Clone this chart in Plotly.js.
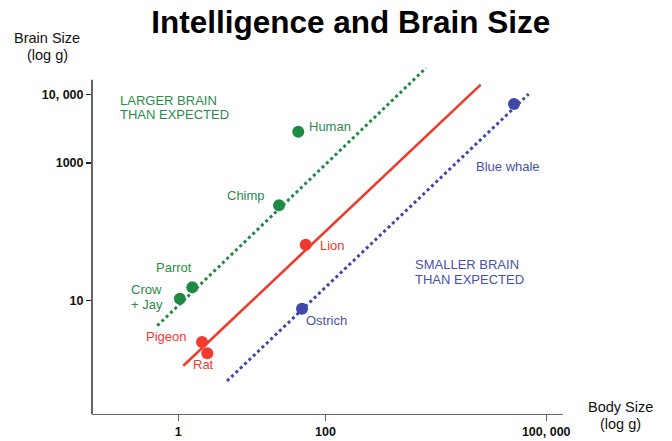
<!DOCTYPE html>
<html>
<head>
<meta charset="utf-8">
<script src="https://cdn.plot.ly/plotly-3.0.1.min.js"></script>
<style>html,body{margin:0;padding:0;background:#fff;}#chart{width:672px;height:441px;}</style>
</head>
<body>
<div id="chart"></div>
<script>
// ---- data (body size g, brain size g) ----
const greenNames = ['Human', 'Chimp', 'Parrot', 'Crow', '+ Jay'];
const greenBody  = [42.7, 23.4, 1.55, 1.05];
const greenBrain = [2860, 244, 15.7, 10.7];
const redNames   = ['Pigeon', 'Rat', 'Lion'];
const redBody    = [2.1, 2.48, 53.9];
const redBrain   = [2.51, 1.72, 65.2];
const blueNames  = ['Ostrich', 'Blue whale'];
const blueBody   = [48, 36500];
const blueBrain  = [7.65, 7230];
// trend lines
const aboveBody    = [0.518, 2325];
const aboveBrain   = [4.33, 24100];
const expectBody   = [1.17, 12880];
const expectBrain  = [1.135, 13800];
const belowBody    = [4.59, 57800];
const belowBrain   = [0.68, 10100];
// axis ticks
const xTickVals = [1, 100, 100000];
const xTickText = ['1', '100', '100, 000'];
const yTickVals = [10, 1000, 10000];
const yTickText = ['10', '1000', '10, 000'];

// ---- styles ----
const FONT = 'Liberation Sans, Arial, Helvetica, sans-serif';
const GREEN = '#1f8a45', RED = '#ef3a2d', BLUE = '#3f47a8';
const GREEN_T = '#2a8b4d', BLUE_T = '#4a51ad';

const traces = [
  {x: aboveBody, y: aboveBrain, mode: 'lines', line: {color: GREEN, width: 3, dash: '3px,3px'}, hoverinfo: 'skip'},
  {x: expectBody, y: expectBrain, mode: 'lines', line: {color: RED, width: 2.6}, hoverinfo: 'skip'},
  {x: belowBody, y: belowBrain, mode: 'lines', line: {color: BLUE, width: 3, dash: '3px,3px'}, hoverinfo: 'skip'},
  {x: greenBody, y: greenBrain, mode: 'markers', marker: {color: GREEN, size: 12}, cliponaxis: false},
  {x: redBody, y: redBrain, mode: 'markers', marker: {color: RED, size: 12}, cliponaxis: false},
  {x: blueBody, y: blueBrain, mode: 'markers', marker: {color: BLUE, size: 12}, cliponaxis: false}
];

function lab(text, x, y, xanchor, xs, ys, color) {
  return {text: text, x: Math.log10(x), y: Math.log10(y), xref: 'x', yref: 'y', showarrow: false,
          xanchor: xanchor, yanchor: 'middle', xshift: xs, yshift: ys,
          font: {family: FONT, size: 13, color: color}};
}
function plab(text, x, y, xanchor, color, size, weight) {
  return {text: text, x: x, y: y, xref: 'paper', yref: 'paper', showarrow: false,
          xanchor: xanchor, yanchor: 'middle',
          font: {family: FONT, size: size || 13, color: color, weight: weight || 'normal'}};
}

const annotations = [
  lab(greenNames[0], greenBody[0], greenBrain[0], 'left', 9, 5, GREEN_T),
  lab(greenNames[1], greenBody[1], greenBrain[1], 'right', -12, 10, GREEN_T),
  lab(greenNames[2], greenBody[2], greenBrain[2], 'center', -18, 20, GREEN_T),
  lab(greenNames[3], greenBody[3], greenBrain[3], 'left', -51, 9, GREEN_T),
  lab(greenNames[4], greenBody[3], greenBrain[3], 'left', -51, -6, GREEN_T),
  lab(redNames[0], redBody[0], redBrain[0], 'right', -14.5, 5, RED),
  lab(redNames[1], redBody[1], redBrain[1], 'center', -4, -11, RED),
  lab(redNames[2], redBody[2], redBrain[2], 'left', 12, -1, RED),
  lab(blueNames[0], blueBody[0], blueBrain[0], 'left', 2, -12, BLUE_T),
  lab(blueNames[1], blueBody[1], blueBrain[1], 'right', 28, -62.5, BLUE_T),
  plab('LARGER BRAIN', 0.0558, 0.897, 'left', GREEN_T),
  plab('THAN EXPECTED', 0.0558, 0.857, 'left', GREEN_T),
  plab('SMALLER BRAIN', 0.682, 0.4277, 'left', BLUE_T),
  plab('THAN EXPECTED', 0.682, 0.385, 'left', BLUE_T),
  plab('Brain Size', -0.0955, 1.073, 'center', '#111', 14.5),
  plab('(log g)', -0.0955, 1.026, 'center', '#111', 14.5),
  plab('Body Size', 1.122, 0.02, 'center', '#111', 14.5),
  plab('(log g)', 1.122, -0.0286, 'center', '#111', 14.5)
];

const layout = {
  width: 672, height: 441,
  margin: {l: 92, r: 109, t: 64, b: 27, pad: 0},
  paper_bgcolor: '#fff', plot_bgcolor: '#fff',
  showlegend: false,
  font: {family: FONT, color: '#000'},
  title: {text: 'Intelligence and Brain Size', x: 0.522, xref: 'container', xanchor: 'center',
          y: 0.95, yref: 'container', yanchor: 'middle',
          font: {family: FONT, size: 31.5, weight: 'bold', color: '#000'}},
  xaxis: {type: 'log', range: [-1.173, 5.228], showgrid: false, zeroline: false,
          showline: true, linecolor: '#666', linewidth: 1.3,
          ticks: 'outside', ticklen: 6, tickcolor: '#666', tickwidth: 1.2,
          tickvals: xTickVals, ticktext: xTickText,
          tickfont: {family: FONT, size: 12.5, weight: 'bold', color: '#111'}},
  yaxis: {type: 'log', range: [-0.647, 4.44], showgrid: false, zeroline: false,
          showline: false,
          ticks: 'outside', ticklen: 5, tickcolor: '#222', tickwidth: 1.2,
          tickvals: yTickVals, ticktext: yTickText,
          tickfont: {family: FONT, size: 12.5, weight: 'bold', color: '#111'}},
  shapes: [
    {type: 'line', xref: 'paper', yref: 'paper', x0: 0, x1: 0, y0: 0, y1: 0.955,
     line: {color: '#111', width: 1.3}}
  ],
  annotations: annotations
};

Plotly.newPlot('chart', traces, layout, {staticPlot: true, displayModeBar: false});
</script>
</body>
</html>
